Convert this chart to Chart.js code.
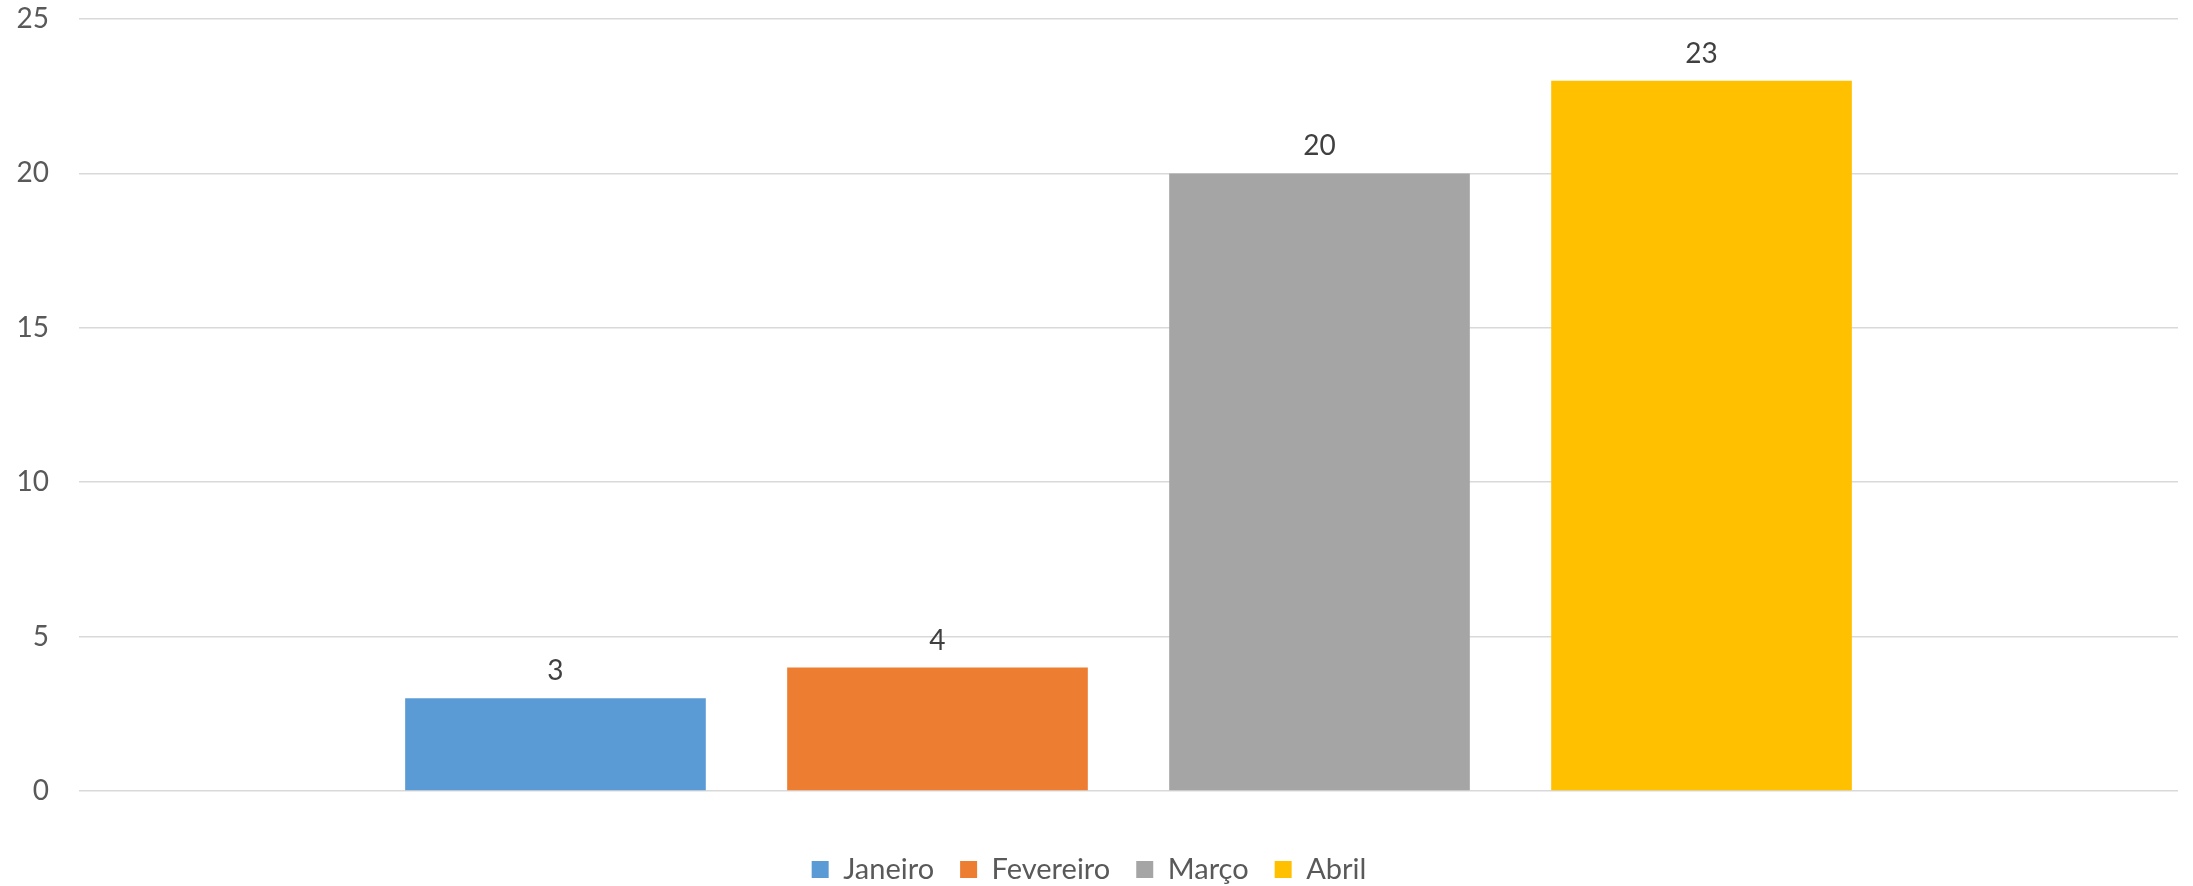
<!DOCTYPE html>
<html>
<head>
<meta charset="utf-8">
<script src="https://cdn.jsdelivr.net/npm/chart.js@4"></script>
<style>
html,body{margin:0;padding:0;background:#fff}
#wrap{width:2193px;height:886px;position:relative}
</style>
</head>
<body>
<div id="wrap"><canvas id="chart"></canvas></div>
<script>
const meses = ["Janeiro","Fevereiro","Março","Abril"]
const valores = [3,4,20,23]
const cores = ["#5B9BD5","#ED7D31","#A5A5A5","#FFC000"]
const yTicks = [0,5,10,15,20,25]

const fonte = "Lato, 'Open Sans', sans-serif"

// valores em cima das barras
const rotulos = {
id:"rotulos",
afterDatasetsDraw(c){
const ctx=c.ctx
ctx.save()
ctx.font="28px "+fonte
ctx.fillStyle="#404040"
ctx.textAlign="center"
ctx.textBaseline="bottom"
c.data.datasets.forEach((ds,i)=>{
c.getDatasetMeta(i).data.forEach((bar,j)=>{
ctx.fillText(ds.data[j],bar.x,bar.y-13)
})
})
ctx.restore()
}
}

// desce a legenda um pouco, como no excel
const desceLegenda = {
id:"desceLegenda",
afterLayout(c){
c.legend.top += 38
c.legend.bottom += 38
}
}

const datasets = meses.map((m,i)=>({
label:m,
data:[valores[i]],
backgroundColor:cores[i],
borderWidth:0,
categoryPercentage:0.728,
barPercentage:0.787
}))

new Chart(document.getElementById("chart"),{
type:"bar",
data:{labels:[""],datasets},
plugins:[rotulos,desceLegenda],
options:{
responsive:true,
maintainAspectRatio:false,
animation:false,
layout:{padding:{top:19,right:15,bottom:30,left:0}},
plugins:{
tooltip:{enabled:false},
legend:{
position:"bottom",
labels:{
font:{family:fonte,size:29},
color:"#595959",
boxWidth:17,
boxHeight:17,
padding:26
}
}
},
scales:{
x:{
ticks:{display:false},
grid:{display:false},
border:{display:false},
afterFit(s){s.height=0}
},
y:{
min:0,max:25,
afterBuildTicks(s){s.ticks=yTicks.map(v=>({value:v}))},
ticks:{font:{family:fonte,size:28},color:"#595959",padding:30},
grid:{color:"#d9d9d9",lineWidth:1.5,drawTicks:false},
border:{display:false},
afterFit(s){
s.width=79
s.paddingTop=0
s.paddingBottom=0
}
}
}
}
})
</script>
</body>
</html>
